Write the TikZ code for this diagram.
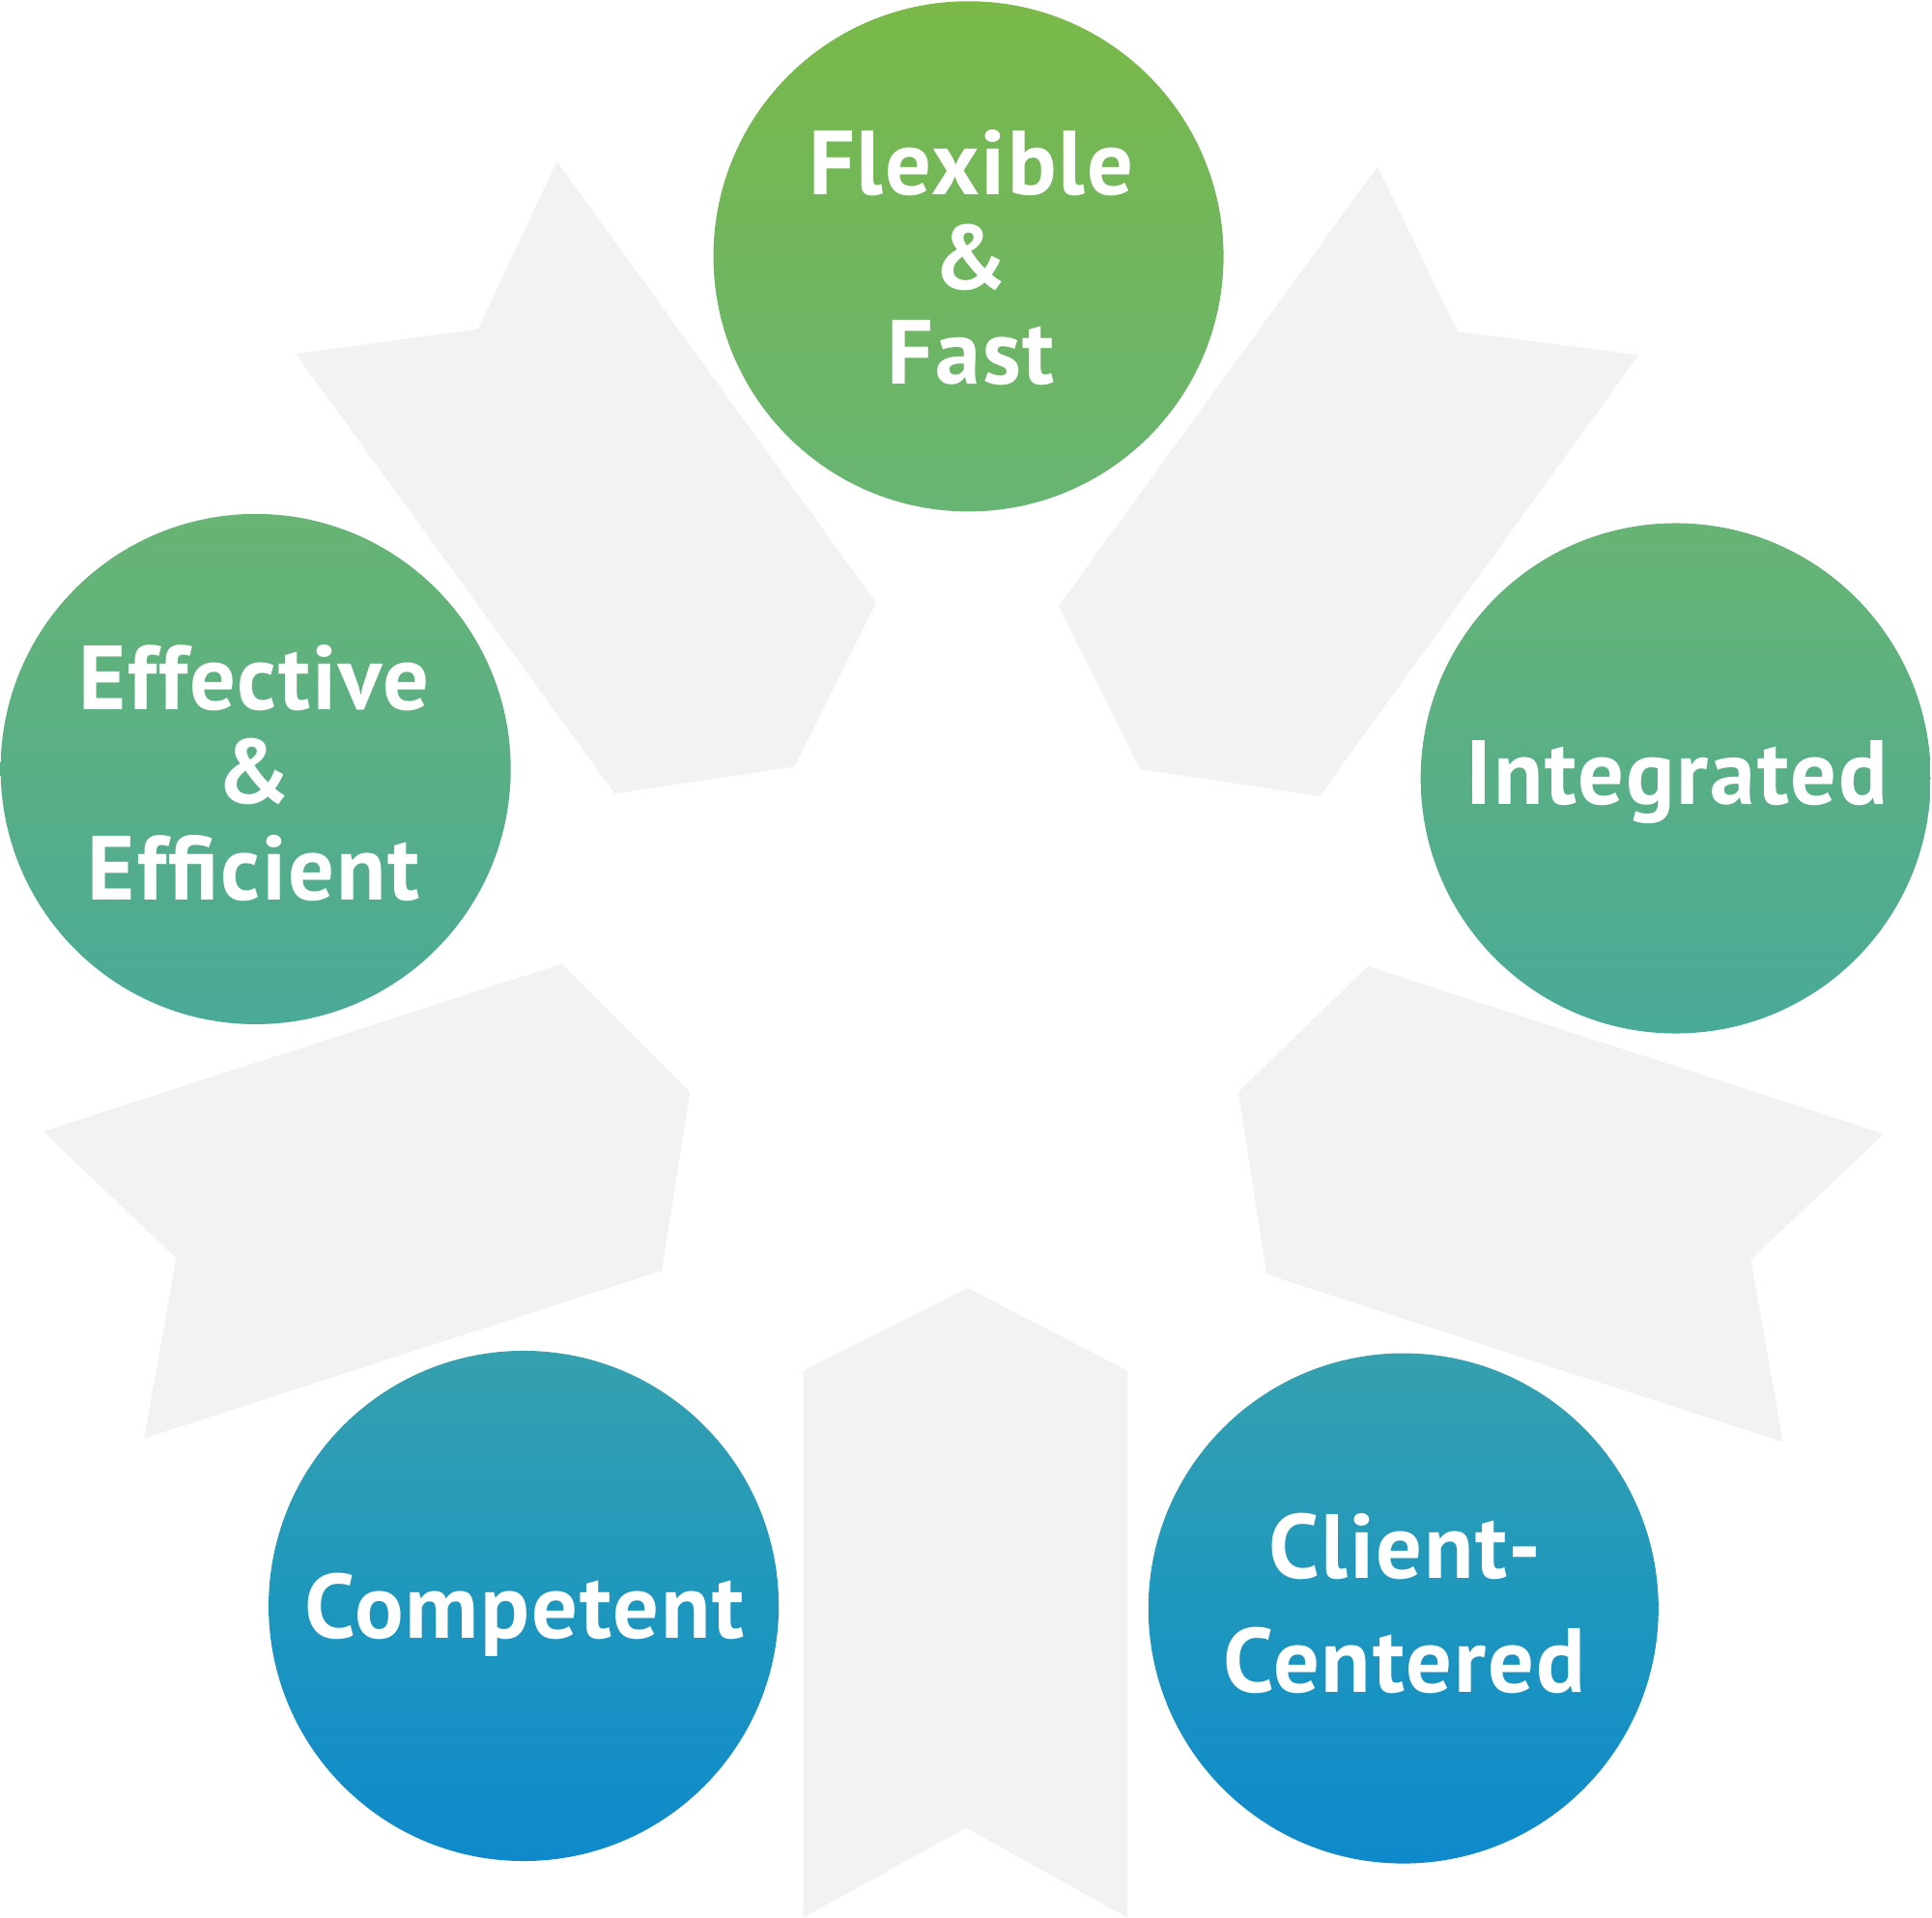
\documentclass[tikz,border=0pt]{standalone}
\usepackage{fontspec}
\setmainfont{PT Sans}[LetterSpace=2.0]
\definecolor{c1}{RGB}{122,184,72}
\definecolor{c2}{RGB}{103,180,116}
\definecolor{c3}{RGB}{74,170,152}
\definecolor{c4}{RGB}{54,160,174}
\definecolor{c5}{RGB}{30,151,190}
\definecolor{c6}{RGB}{14,137,203}
\definecolor{chevgray}{RGB}{242,242,242}
\pgfdeclareverticalshading{grad}{100bp}{%
color(0bp)=(c6); color(25bp)=(c6); color(32bp)=(c5); color(38.7bp)=(c4);
color(47.55bp)=(c3); color(61bp)=(c2); color(75bp)=(c1); color(100bp)=(c1)}
\begin{document}
\begin{tikzpicture}[x=1pt,y=1pt,
  chev/.style={fill=chevgray,draw=none},
  lbl/.style={anchor=base,text=white,inner sep=0pt,font=\fontsize{74}{77}\selectfont\bfseries}]
\useasboundingbox (0,0) rectangle (1568,-1555.5);
% chevrons
\fill[chev] (452,-131) -- (388,-267) -- (240,-287) -- (499,-644) -- (645,-622) -- (711,-489) -- cycle;
\fill[chev] (1118,-135) -- (1183,-269) -- (1330,-288) -- (1071,-646) -- (925,-624) -- (859,-492) -- cycle;
\fill[chev] (1110,-784) -- (1529,-920) -- (1421,-1022) -- (1447,-1170) -- (1028,-1034) -- (1005,-886) -- cycle;
\fill[chev] (456,-782) -- (35,-918) -- (143,-1021) -- (117,-1167) -- (537,-1031) -- (560,-886) -- cycle;
\fill[chev] (785,-1045) -- (915,-1112) -- (915,-1556) -- (784,-1483) -- (652,-1556) -- (652,-1112) -- cycle;
% circles with one shared vertical gradient
\begin{scope}
\clip (786,-208) circle[radius=207]
      (1360,-631.5) circle[radius=207]
      (1139,-1305) circle[radius=207]
      (425,-1303) circle[radius=207]
      (207.5,-624) circle[radius=207];
\shade[shading=grad] (0,0) rectangle (1568,-1512);
\end{scope}
% labels
\node[lbl] (fl1) at (788,-158) {Flexible};
\node[lbl] (fl2) at (788,-235) {\&};
\node[lbl] (fl3) at (788,-312) {Fast};
\node[lbl] (int) at (1361,-653) {Integrated};
\node[lbl] (ef1) at (206,-576) {Effective};
\node[lbl] (ef2) at (206,-652) {\&};
\node[lbl] (ef3) at (206,-730) {Efficient};
\node[lbl] (com) at (426,-1329) {Competent};
\node[lbl] (cl1) at (1140,-1281) {Client-};
\node[lbl] (cl2) at (1140,-1373) {Centered};
\end{tikzpicture}
\end{document}
